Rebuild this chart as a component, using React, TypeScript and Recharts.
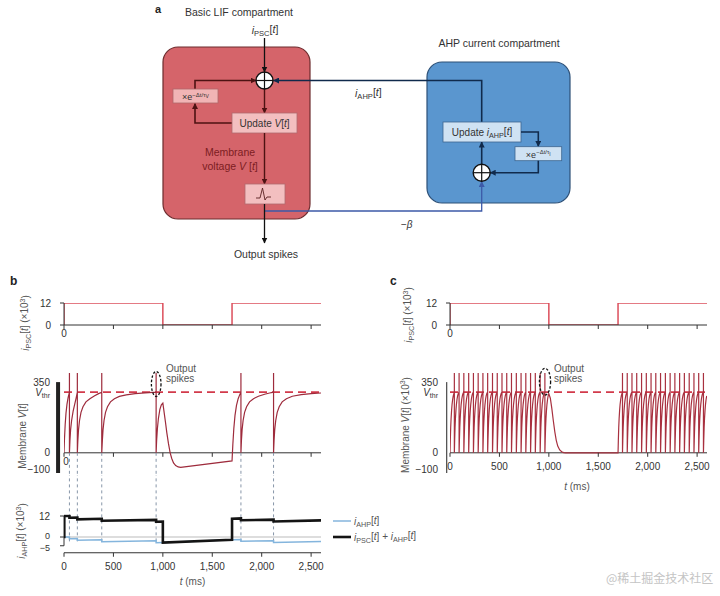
import React from "react";
import { LineChart, Line, XAxis, YAxis, ReferenceLine, Legend } from "recharts";

const FONT = "'Liberation Sans', Arial, Helvetica, sans-serif";
const AXIS = "#333";
const LABEL = "#555";
const PSC_RED = "#dc4f5c";
const TRACE_B = "#9e2b3c";
const TRACE_C = "#a8303f";
const THR_RED = "#d23a4b";
const AHP_BLUE = "#84b5dd";
const SUM_BLACK = "#141414";
const GUIDE = "#8796a8";

// shared time axis (ms)
const timeTicks = [0, 500, 1000, 1500, 2000, 2500];
const timeDomain: [number, number] = [0, 2600];

// input current i_PSC[t] (x10^3): on 0-1000 ms, off until 1700 ms
const pscT = [0, 0, 1000, 1000, 1700, 1700, 2600];
const pscV = [0, 12, 12, 0, 0, 12, 12];

const V_THR = 300;

// panel b: membrane voltage with AHP current, [t (ms), V]
const vTraceB: [number, number][] = [
  [0, 0], [5, 70], [12, 140], [20, 195], [30, 240], [42, 275], [55, 300], [55, 395], [55, 0],
  [60, 60], [67, 115], [77, 160], [92, 205], [108, 240], [122, 270], [135, 300], [135, 395], [135, 0],
  [140, 60], [147, 115], [157, 160], [172, 200], [192, 228], [222, 252], [262, 268], [310, 282], [350, 293], [382, 300], [382, 395], [382, 0],
  [388, 60], [395, 115], [405, 160], [420, 200], [440, 228], [470, 252], [510, 268], [560, 279], [630, 287], [720, 293], [820, 297], [932, 300], [932, 395], [932, 0],
  [937, 60], [945, 120], [955, 170], [970, 215], [985, 238], [1000, 246],
  [1013, 200], [1027, 150], [1040, 100], [1057, 45], [1074, 0], [1090, -28], [1108, -50], [1130, -63], [1155, -70], [1180, -72],
  [1700, -40], [1708, 40], [1718, 120], [1730, 185], [1745, 235], [1762, 268], [1778, 288], [1790, 300], [1790, 395], [1790, 0],
  [1795, 60], [1802, 115], [1812, 160], [1827, 200], [1847, 228], [1877, 252], [1917, 268], [1967, 280], [2030, 290], [2080, 296], [2120, 300], [2120, 395], [2120, 0],
  [2125, 60], [2132, 115], [2142, 160], [2157, 200], [2177, 228], [2207, 252], [2250, 268], [2310, 280], [2400, 288], [2500, 293], [2600, 296],
];
const spikeTimesB = [55, 135, 382, 932, 1790, 2120];

// panel b: AHP current and total current (x10^3)
const iAhpB: [number, number][] = [
  [0, 0], [55, 0], [55, -1.0], [135, -0.9], [135, -1.9], [382, -1.6], [382, -2.7], [932, -2.2],
  [932, -3.3], [1000, -3.2], [1700, -1.6], [1790, -1.4], [1790, -2.4], [2120, -2.1], [2120, -3.1], [2600, -2.5],
];
const iSumB: [number, number][] = [
  [0, 0], [3, 0], [3, 12], [55, 12], [55, 11.0], [135, 11.1], [135, 10.1], [382, 10.4], [382, 9.3], [932, 9.8],
  [932, 8.7], [1000, 8.8], [1000, -3.2], [1700, -1.6], [1700, 10.4], [1790, 10.6], [1790, 9.6], [2120, 9.9], [2120, 8.9], [2600, 9.5],
];

// panel c: plain LIF, regular firing
const chargeOffsetC = [0, 3, 7, 11, 16, 21, 27, 33, 39, 44];
const chargeValueC = [0, 60, 125, 170, 210, 240, 265, 282, 293, 298];
const spikesC1 = [44, 92, 140, 189, 237, 285, 333, 381, 430, 478, 526, 574, 622, 671, 719, 767, 815, 863, 912, 960];
const spikesC2 = [1745, 1793, 1841, 1889, 1938, 1986, 2034, 2082, 2130, 2179, 2227, 2275, 2323, 2371, 2420, 2468, 2516, 2564];
const decayC: [number, number][] = [
  [1000, 292], [1015, 270], [1030, 220], [1045, 160], [1060, 105], [1075, 62], [1090, 33], [1110, 14], [1130, 5], [1150, 1], [1170, 0], [1700, 0],
];

const rows = (pairs: [number, number][], key = "v") => pairs.map(([t, v]) => ({ t, [key]: v }));
const pscRows = pscT.map((t, i) => ({ t, v: pscV[i] }));

function spikeTrain(start: number, spikes: number[], end: number) {
  const out: { t: number; v: number }[] = [];
  let from = start;
  for (const s of spikes) {
    chargeOffsetC.forEach((o, i) => {
      if (from + o < s) out.push({ t: from + o, v: chargeValueC[i] });
    });
    out.push({ t: s, v: V_THR }, { t: s, v: 395 }, { t: s, v: 0 });
    from = s;
  }
  chargeOffsetC.forEach((o, i) => {
    if (from + o <= end) out.push({ t: from + o, v: chargeValueC[i] });
  });
  return out;
}

const vRowsB = rows(vTraceB);
const vRowsC = [...spikeTrain(0, spikesC1, 1000), ...rows(decayC), ...spikeTrain(1700, spikesC2, 2600)];
const ahpRows = rows(iAhpB, "ahp");
const sumRows = rows(iSumB, "sum");

const fmtTime = (v: number) => v.toLocaleString("en-US");
const tickStyle = { fontSize: 10, fill: AXIS, fontFamily: FONT };

// i_X[t] with subscript
const Sym = ({ s }: { s: string }) => (
  <>
    <tspan fontStyle="italic">i</tspan>
    <tspan fontSize="0.72em" dy="0.3em">{s}</tspan>
    <tspan dy="-0.3em">[</tspan>
    <tspan fontStyle="italic">t</tspan>
    <tspan>]</tspan>
  </>
);
const Times3 = () => (
  <>
    <tspan> (×10</tspan>
    <tspan fontSize="0.7em" dy="-0.45em">3</tspan>
    <tspan dy="0.45em">)</tspan>
  </>
);

// middle plots: x axis sits at V = 0, not at the plot bottom
const ZERO_OFF = 20.2;
const midTick = (showAll: boolean, labelDy: number) => (p: any) => {
  const { x, y, payload } = p;
  const y0 = y - ZERO_OFF;
  const v = payload.value as number;
  return (
    <g>
      <line x1={x} x2={x} y1={y0} y2={y0 + 4} stroke={AXIS} />
      {(showAll || v === 0) && (
        <text x={showAll ? x : x + 2} y={y0 + labelDy} textAnchor="middle" {...tickStyle}>
          {fmtTime(v)}
        </text>
      )}
    </g>
  );
};

const vTick = (p: any) => {
  const { x, y, payload } = p;
  const v = payload.value as number;
  return (
    <text x={x} y={y} dy={v < 0 ? 0 : 3.5} textAnchor="end" {...tickStyle}>
      {v === V_THR ? (
        <>
          <tspan fontStyle="italic">V</tspan>
          <tspan fontSize={7} dy={2}>thr</tspan>
        </>
      ) : v < 0 ? (
        `−${Math.abs(v)}`
      ) : (
        v
      )}
    </text>
  );
};

// bottom current axis: 0 and -5 sit close, nudge them apart
const currentTick = (p: any) => {
  const { x, y, payload } = p;
  const v = payload.value as number;
  const dy = v === 0 ? 1.5 : v < 0 ? 5 : 3.5;
  return (
    <text x={x} y={y} dy={dy} textAnchor="end" {...tickStyle} fontSize={v === 12 ? 10 : 9}>
      {v < 0 ? `−${Math.abs(v)}` : v}
    </text>
  );
};

function PscChart() {
  return (
    <LineChart width={330} height={65} margin={{ top: 13, right: 9, bottom: 0, left: 0 }}>
      <XAxis type="number" dataKey="t" domain={timeDomain} allowDataOverflow ticks={timeTicks} interval={0}
        tickFormatter={(v: number) => (v === 0 ? "0" : "")} tickSize={4} tickMargin={1} height={30} stroke={AXIS} tick={tickStyle} />
      <YAxis type="number" domain={[0, 12]} allowDataOverflow ticks={[0, 12]} interval={0} width={64}
        tickSize={4} tickMargin={9} stroke={AXIS} tick={tickStyle} />
      <Line data={pscRows} dataKey="v" type="linear" stroke={PSC_RED} strokeWidth={1.5} dot={false} isAnimationActive={false} />
    </LineChart>
  );
}

function VoltageChart({ data, color, axisX, axisW, showAllTicks, labelDy, guides }: any) {
  return (
    <LineChart width={330} height={120} margin={{ top: 17, right: 9, bottom: 0, left: 0 }}>
      <XAxis type="number" dataKey="t" domain={timeDomain} allowDataOverflow ticks={timeTicks} interval={0}
        height={2} axisLine={false} tickLine={false} tickSize={0} tickMargin={0} tick={midTick(showAllTicks, labelDy)} />
      <YAxis type="number" domain={[-100, 400]} allowDataOverflow ticks={[-100, 0, V_THR, 350]} interval={0} width={64}
        axisLine={false} tickLine={false} tickSize={0} tickMargin={showAllTicks ? 12 : 14} tick={vTick} />
      <ReferenceLine segment={[{ x: axisX, y: -100 }, { x: axisX, y: 350 }]} stroke="#222" strokeWidth={axisW} ifOverflow="visible" />
      <ReferenceLine y={0} stroke={AXIS} />
      {guides.map((t: number) => (
        <ReferenceLine key={t} segment={[{ x: t, y: 0 }, { x: t, y: -110 }]} stroke={GUIDE} strokeDasharray="3 3" ifOverflow="visible" />
      ))}
      <ReferenceLine y={V_THR} stroke={THR_RED} strokeWidth={1.8} strokeDasharray="8 5" />
      <Line data={data} dataKey="v" type="linear" stroke={color} strokeWidth={1.2} dot={false} isAnimationActive={false} />
    </LineChart>
  );
}

const legendLabels: Record<string, React.ReactNode> = {
  ahp: <Sym s="AHP" />,
  sum: (
    <>
      <Sym s="PSC" />
      <tspan> + </tspan>
      <Sym s="AHP" />
    </>
  ),
};

function CurrentLegend({ payload }: any) {
  const items = payload || [];
  return (
    <svg width={130} height={30} style={{ display: "block" }}>
      {items.map((it: any, i: number) => (
        <g key={it.dataKey}>
          <line x1={3} x2={21} y1={6 + i * 16} y2={6 + i * 16} stroke={it.color} strokeWidth={it.dataKey === "sum" ? 2.6 : 1.5} />
          <text x={24} y={9.5 + i * 16} fontSize={10} fill={LABEL} fontFamily={FONT}>
            {legendLabels[it.dataKey]}
          </text>
        </g>
      ))}
    </svg>
  );
}

function CurrentChart() {
  return (
    <LineChart width={460} height={121} margin={{ top: 39.25, right: 139, bottom: 3, left: 0 }}>
      <XAxis type="number" dataKey="t" domain={timeDomain} allowDataOverflow ticks={timeTicks} interval={0}
        tickFormatter={fmtTime} tickSize={4} tickMargin={6} height={40.25} stroke={AXIS} tick={tickStyle} />
      <YAxis type="number" domain={[-9, 13]} allowDataOverflow ticks={[-5, 0, 12]} interval={0} width={64}
        axisLine={false} tickSize={4} tickMargin={10} stroke={AXIS} tick={currentTick} />
      <ReferenceLine segment={[{ x: 0, y: -5 }, { x: 0, y: 12 }]} stroke={AXIS} />
      <ReferenceLine y={0} stroke="#bbb" />
      {spikeTimesB.map((t) => (
        <ReferenceLine key={t} segment={[{ x: t, y: -2.5 }, { x: t, y: 40 }]} stroke={GUIDE} strokeDasharray="3 3" ifOverflow="visible" />
      ))}
      <Line data={ahpRows} dataKey="ahp" name="ahp" type="linear" stroke={AHP_BLUE} strokeWidth={1.5} dot={false} isAnimationActive={false} />
      <Line data={sumRows} dataKey="sum" name="sum" type="linear" stroke={SUM_BLACK} strokeWidth={2.6} dot={false} isAnimationActive={false} />
      <Legend layout="vertical" align="center" verticalAlign="middle"
        wrapperStyle={{ left: 330, top: 40, width: 130, height: 30 }}
        content={(props: any) => <CurrentLegend payload={props.payload} />} />
    </LineChart>
  );
}

function Rot({ x, y, children }: { x: number; y: number; children: React.ReactNode }) {
  return (
    <text transform={`translate(${x},${y}) rotate(-90)`} textAnchor="middle" fontSize={10} fill={LABEL} fontFamily={FONT}>
      {children}
    </text>
  );
}

function Sum({ cx, cy }: { cx: number; cy: number }) {
  return (
    <g>
      <circle cx={cx} cy={cy} r={8.5} fill="#fff" stroke="#111" strokeWidth={1.4} />
      <line x1={cx - 8.5} x2={cx + 8.5} y1={cy} y2={cy} stroke="#111" strokeWidth={1.2} />
      <line x1={cx} x2={cx} y1={cy - 8.5} y2={cy + 8.5} stroke="#111" strokeWidth={1.2} />
    </g>
  );
}

const marker = (id: string, color: string) => (
  <marker id={id} viewBox="0 0 6 6" refX={5.5} refY={3} markerWidth={6} markerHeight={6} markerUnits="userSpaceOnUse" orient="auto">
    <path d="M0,0 L6,3 L0,6 z" fill={color} />
  </marker>
);

function Diagram() {
  const rd = "#4d1212";
  const nv = "#102a4c";
  const fb = "#3c5aa8";
  return (
    <g fontFamily={FONT}>
      <defs>
        {marker("mR", rd)}
        {marker("mB", nv)}
        {marker("mK", "#111")}
        {marker("mP", fb)}
      </defs>
      <text x={155} y={13} fontSize={11} fontWeight="bold" fill="#222">a</text>
      <text x={239} y={16} fontSize={10.5} fill="#333" textAnchor="middle">Basic LIF compartment</text>
      <text x={265} y={34} fontSize={10.5} fill="#333" textAnchor="middle"><Sym s="PSC" /></text>
      <text x={499} y={47} fontSize={10.5} fill="#333" textAnchor="middle">AHP current compartment</text>

      <rect x={163} y={47} width={147} height={172} rx={15} fill="#d5646a" stroke="#6d2c2e" strokeWidth={1.2} />
      <rect x={427} y={62} width={143} height={141} rx={15} fill="#5a96cf" stroke="#2d5077" strokeWidth={1.2} />

      <line x1={264.5} y1={38} x2={264.5} y2={72} stroke="#111" strokeWidth={1.3} markerEnd="url(#mK)" />
      <polyline points="232,123 195,123 195,103.5" fill="none" stroke={rd} strokeWidth={1.6} markerEnd="url(#mR)" />
      <polyline points="195,89 195,80.5 256,80.5" fill="none" stroke={rd} strokeWidth={1.6} markerEnd="url(#mR)" />
      <rect x={173} y={89} width={45} height={14} fill="#f1b4b5" stroke="#b0666a" strokeWidth={0.8} />
      <text x={195.5} y={100} fontSize={9} textAnchor="middle" fill="#333">
        ×e<tspan fontSize={6} dy={-3.5}>−Δt/τ</tspan><tspan fontSize={5} dy={1.5}>V</tspan>
      </text>
      <line x1={264.5} y1={89} x2={264.5} y2={113} stroke={rd} strokeWidth={1.4} markerEnd="url(#mR)" />
      <rect x={232} y={113} width={65} height={20} fill="#f3bfc0" stroke="#b06a6e" strokeWidth={0.8} />
      <text x={264.5} y={126.5} fontSize={10} textAnchor="middle" fill="#333">
        Update <tspan fontStyle="italic">V</tspan>[<tspan fontStyle="italic">t</tspan>]
      </text>
      <text x={230} y={156} fontSize={10.5} textAnchor="middle" fill="#7c1d22">Membrane</text>
      <text x={230} y={170} fontSize={10.5} textAnchor="middle" fill="#7c1d22">
        voltage <tspan fontStyle="italic">V</tspan> [<tspan fontStyle="italic">t</tspan>]
      </text>
      <line x1={264.5} y1={133} x2={264.5} y2={184} stroke={rd} strokeWidth={1.4} markerEnd="url(#mR)" />
      <rect x={245} y={184} width={40} height={20} fill="#f3bfc0" stroke="#b06a6e" strokeWidth={0.8} />
      <path d="M256,198 L260,198 L262.5,188 L265,200 L267,197 L271,197" fill="none" stroke="#5a2020" strokeWidth={0.9} />
      <polyline points="264.5,211 481.7,211 481.7,181.5" fill="none" stroke={fb} strokeWidth={1.3} markerEnd="url(#mP)" />
      <line x1={264.5} y1={204} x2={264.5} y2={243} stroke="#111" strokeWidth={1.3} markerEnd="url(#mK)" />
      <text x={266} y={258} fontSize={10.5} textAnchor="middle" fill="#333">Output spikes</text>
      <text x={401} y={228} fontSize={10} fill="#333">−<tspan fontStyle="italic">β</tspan></text>

      <polyline points="481.7,122 481.7,80.5 273.5,80.5" fill="none" stroke={nv} strokeWidth={1.6} markerEnd="url(#mB)" />
      <text x={355} y={97} fontSize={10.5} fill="#333"><Sym s="AHP" /></text>
      <rect x={443} y={122} width={78} height={20} fill="#cfe2f3" stroke="#3d6590" strokeWidth={0.8} />
      <text x={482} y={135.5} fontSize={10} textAnchor="middle" fill="#333">
        Update <Sym s="AHP" />
      </text>
      <polyline points="521,132 538.3,132 538.3,146.5" fill="none" stroke={nv} strokeWidth={1.6} markerEnd="url(#mB)" />
      <rect x={515} y={146.7} width={46.7} height={14} fill="#cfe2f3" stroke="#3d6590" strokeWidth={0.8} />
      <text x={538.3} y={157.7} fontSize={9} textAnchor="middle" fill="#333">
        ×e<tspan fontSize={6} dy={-3.5}>−Δt/τ</tspan><tspan fontSize={5} dy={1.5}>I</tspan>
      </text>
      <polyline points="538.3,160.7 538.3,172.7 490.2,172.7" fill="none" stroke={nv} strokeWidth={1.6} markerEnd="url(#mB)" />
      <line x1={481.7} y1={164} x2={481.7} y2={142} stroke={nv} strokeWidth={1.6} markerEnd="url(#mB)" />

      <Sum cx={264.5} cy={80.5} />
      <Sum cx={481.7} cy={172.7} />
    </g>
  );
}

function Overlay() {
  return (
    <svg width={720} height={596} style={{ position: "absolute", left: 0, top: 0, pointerEvents: "none" }}>
      <Diagram />
      <g fontFamily={FONT}>
        <text x={10} y={285} fontSize={12} fontWeight="bold" fill="#222">b</text>
        <text x={390} y={285} fontSize={12} fontWeight="bold" fill="#222">c</text>

        <Rot x={28.5} y={323}><Sym s="PSC" /><Times3 /></Rot>
        <Rot x={25.5} y={436}>Membrane <tspan fontStyle="italic">V</tspan>[<tspan fontStyle="italic">t</tspan>]</Rot>
        <Rot x={25} y={531}><Sym s="AHP" /><Times3 /></Rot>
        <Rot x={411.5} y={315}><Sym s="PSC" /><Times3 /></Rot>
        <Rot x={408.5} y={425}>Membrane <tspan fontStyle="italic">V</tspan>[<tspan fontStyle="italic">t</tspan>]<Times3 /></Rot>

        <text x={192.5} y={585} fontSize={10} fill={LABEL} textAnchor="middle"><tspan fontStyle="italic">t</tspan> (ms)</text>
        <text x={577} y={490} fontSize={10} fill={LABEL} textAnchor="middle"><tspan fontStyle="italic">t</tspan> (ms)</text>

        <ellipse cx={156.2} cy={384} rx={4.8} ry={12.5} fill="none" stroke="#111" strokeWidth={1.3} strokeDasharray="2.5 1.8" />
        <text x={166} y={372} fontSize={10} fill={LABEL}>Output</text>
        <text x={166} y={382} fontSize={10} fill={LABEL}>spikes</text>
        <ellipse cx={545} cy={381.7} rx={5.6} ry={13.3} fill="none" stroke="#111" strokeWidth={1.3} strokeDasharray="2.5 1.8" />
        <text x={554} y={372} fontSize={10} fill={LABEL}>Output</text>
        <text x={554} y={382} fontSize={10} fill={LABEL}>spikes</text>
      </g>
      <text x={606} y={583} fontSize={12} fill="#c4c4c4" fontFamily="'Noto Sans CJK SC', sans-serif">@稀土掘金技术社区</text>
    </svg>
  );
}

export default function App() {
  return (
    <div style={{ position: "absolute", left: 0, top: 0, width: 720, height: 596, background: "#fff", overflow: "hidden", fontFamily: FONT }}>
      <div style={{ position: "absolute", left: 0, top: 290 }}><PscChart /></div>
      <div style={{ position: "absolute", left: 0, top: 355 }}>
        <VoltageChart data={vRowsB} color={TRACE_B} axisX={-60} axisW={4} showAllTicks={false} labelDy={12.5} guides={spikeTimesB} />
      </div>
      <div style={{ position: "absolute", left: 0, top: 475 }}><CurrentChart /></div>
      <div style={{ position: "absolute", left: 386, top: 290 }}><PscChart /></div>
      <div style={{ position: "absolute", left: 386, top: 355 }}>
        <VoltageChart data={vRowsC} color={TRACE_C} axisX={-33} axisW={1} showAllTicks labelDy={17} guides={[]} />
      </div>
      <Overlay />
    </div>
  );
}
